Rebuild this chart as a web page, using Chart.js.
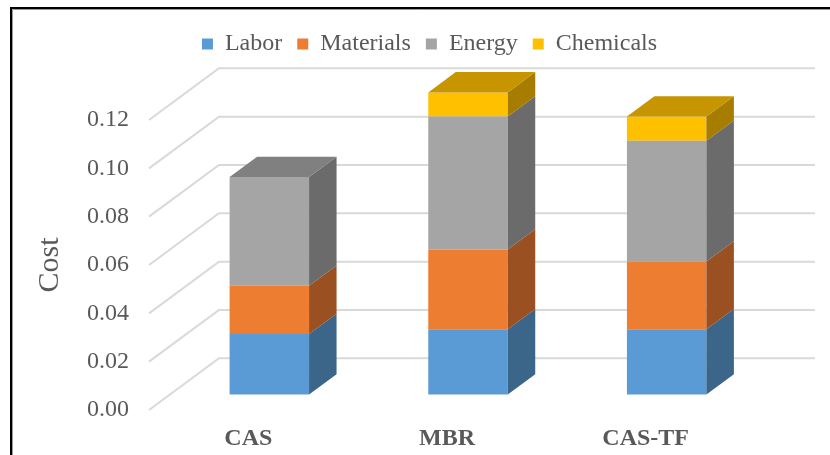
<!DOCTYPE html>
<html>
<head>
<meta charset="utf-8">
<script src="https://cdn.jsdelivr.net/npm/chart.js@4.4.1/dist/chart.umd.min.js"></script>
<style>
  html, body { margin: 0; padding: 0; background: #ffffff; }
  #wrap { width: 830px; height: 455px; }
</style>
</head>
<body>
<div id="wrap"><canvas id="c" width="830" height="455"></canvas></div>
<script>
// ---- data ----
const categories = ['CAS', 'MBR', 'CAS-TF'];
const seriesNames = ['Labor', 'Materials', 'Energy', 'Chemicals'];
const labor     = [0.025, 0.027, 0.027];
const materials = [0.020, 0.033, 0.028];
const energy    = [0.045, 0.055, 0.050];
const chemicals = [0.000, 0.010, 0.010];
const yTicks = [0.00, 0.02, 0.04, 0.06, 0.08, 0.10, 0.12];

// ---- styles ----
const frontColors = ['#5B9BD5', '#ED7D31', '#A5A5A5', '#FFC000'];
const sideColors  = ['#3B6589', '#9A5020', '#6B6B6B', '#A67D00'];
const topColors   = ['#46789F', '#B86127', '#808080', '#C69500'];
const FONT = "'Times New Roman', 'Liberation Serif', serif";
const TXT = '#595959';

// 3D geometry (pixels)
const FLOOR_DX = 70, FLOOR_DY = 51.7;   // wall depth
const BAR_OFF_X = 21, BAR_OFF_Y = 15.5; // bar front position inside the depth
const BAR_DX = 27.5, BAR_DY = 20.3;     // bar depth

const seriesValues = [labor, materials, energy, chemicals];

const threeD = {
  id: 'threeD',
  beforeDraw(chart) {
    const ctx = chart.ctx;
    ctx.save();
    ctx.fillStyle = '#ffffff';
    ctx.fillRect(0, 0, chart.width, chart.height);
    // frame
    ctx.strokeStyle = '#000000';
    ctx.lineWidth = 2;
    ctx.beginPath();
    ctx.moveTo(11, 470);
    ctx.lineTo(11, 8);
    ctx.lineTo(850, 8);
    ctx.stroke();
    ctx.strokeStyle = '#9a9a9a';
    ctx.lineWidth = 1;
    ctx.beginPath();
    ctx.moveTo(12.5, 470);
    ctx.lineTo(12.5, 9.5);
    ctx.lineTo(850, 9.5);
    ctx.stroke();
    ctx.restore();
  },
  beforeDatasetsDraw(chart) {
    const ctx = chart.ctx;
    const ys = chart.scales.y;
    const area = chart.chartArea;
    ctx.save();
    ctx.strokeStyle = '#D9D9D9';
    ctx.lineWidth = 2;
    yTicks.forEach(v => {
      const y = ys.getPixelForValue(v);
      ctx.beginPath();
      ctx.moveTo(area.left, y);
      ctx.lineTo(area.left + FLOOR_DX, y - FLOOR_DY);
      ctx.lineTo(area.right + FLOOR_DX, y - FLOOR_DY);
      ctx.stroke();
    });
    ctx.restore();
    ctx.save();
    ctx.translate(BAR_OFF_X, -BAR_OFF_Y);
  },
  afterDatasetsDraw(chart) {
    const ctx = chart.ctx;
    const n = categories.length;
    for (let j = 0; j < n; j++) {
      let topIdx = -1;
      chart.data.datasets.forEach((ds, i) => {
        if (ds.data[j] > 0) topIdx = i;
      });
      chart.data.datasets.forEach((ds, i) => {
        if (!(ds.data[j] > 0)) return;
        const el = chart.getDatasetMeta(i).data[j];
        const p = el.getProps(['x', 'y', 'base', 'width'], true);
        const x1 = p.x - p.width / 2, x2 = p.x + p.width / 2;
        const yt = Math.min(p.y, p.base), yb = Math.max(p.y, p.base);
        ctx.fillStyle = sideColors[i];
        ctx.beginPath();
        ctx.moveTo(x2, yt);
        ctx.lineTo(x2 + BAR_DX, yt - BAR_DY);
        ctx.lineTo(x2 + BAR_DX, yb - BAR_DY);
        ctx.lineTo(x2, yb);
        ctx.closePath();
        ctx.fill();
        if (i === topIdx) {
          ctx.fillStyle = topColors[i];
          ctx.beginPath();
          ctx.moveTo(x1, yt);
          ctx.lineTo(x1 + BAR_DX, yt - BAR_DY);
          ctx.lineTo(x2 + BAR_DX, yt - BAR_DY);
          ctx.lineTo(x2, yt);
          ctx.closePath();
          ctx.fill();
        }
      });
    }
    ctx.restore();
  }
};

const datasets = seriesNames.map((name, i) => ({
  label: name,
  data: seriesValues[i],
  backgroundColor: frontColors[i],
  borderWidth: 0,
  xAxisID: 'x',
  yAxisID: 'y',
  clip: false,
  barPercentage: 0.4,
  categoryPercentage: 1.0
}));

new Chart(document.getElementById('c'), {
  type: 'bar',
  data: { labels: categories, datasets },
  plugins: [threeD],
  options: {
    responsive: false,
    animation: false,
    devicePixelRatio: 1,
    layout: { padding: { top: 17, left: 29, right: 0, bottom: 0 } },
    plugins: {
      legend: {
        position: 'top',
        labels: {
          boxWidth: 11,
          boxHeight: 11,
          padding: 15,
          color: TXT,
          font: { family: FONT, size: 24 }
        }
      },
      tooltip: { enabled: false }
    },
    scales: {
      x: {
        type: 'category',
        position: 'top',
        offset: true,
        stacked: true,
        grid: { display: false, drawTicks: false },
        border: { display: false },
        ticks: { display: false },
        afterFit(s) { s.height = 54; }
      },
      xLab: {
        type: 'category',
        position: 'bottom',
        offset: true,
        grid: { display: false, drawTicks: false },
        border: { display: false },
        ticks: {
          padding: 14,
          color: TXT,
          font: { family: FONT, size: 24, weight: 'bold' }
        },
        afterFit(s) { s.height = 45; }
      },
      y: {
        type: 'linear',
        position: 'left',
        stacked: true,
        min: 0,
        max: 0.12,
        grid: { display: false, drawTicks: false },
        border: { display: false },
        afterBuildTicks(s) { s.ticks = yTicks.map(v => ({ value: v })); },
        ticks: {
          padding: 20,
          color: TXT,
          font: { family: FONT, size: 24 },
          callback: v => Number(v).toFixed(2)
        },
        title: {
          display: true,
          text: 'Cost',
          color: TXT,
          font: { family: FONT, size: 30 },
          padding: { top: 3, bottom: 0 }
        },
        afterFit(s) { s.width = 120; }
      },
      yR: {
        type: 'linear',
        position: 'right',
        grid: { display: false, drawTicks: false },
        border: { display: false },
        ticks: { display: false },
        afterFit(s) { s.width = 85; }
      }
    }
  }
});
</script>
</body>
</html>
